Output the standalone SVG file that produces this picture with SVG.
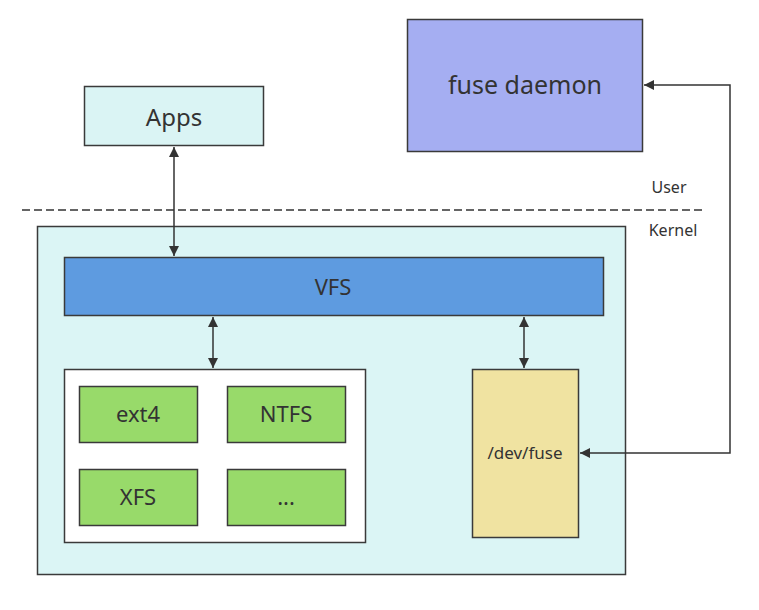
<svg xmlns="http://www.w3.org/2000/svg" width="759" height="610" viewBox="0 0 759 610">
<defs>
<marker id="ah" viewBox="0 0 10 10" refX="10" refY="5" markerWidth="10" markerHeight="10" markerUnits="userSpaceOnUse" orient="auto-start-reverse">
<path d="M0,0 L10,5 L0,10 Z" fill="#333"/>
</marker>
<style>
.box{stroke:#3a3a3a;stroke-width:1.5}
.t{font-family:"Noto Sans","Open Sans",sans-serif;fill:#333;text-anchor:middle;dominant-baseline:central}
.c{stroke:#333;stroke-width:1.5;fill:none}
</style>
</defs>
<rect width="759" height="610" fill="#fff"/>
<g id="kernel"><rect class="box" x="37.5" y="226.5" width="588" height="348" fill="#dbf5f5" stroke-width="1"/></g>
<line x1="22" y1="210" x2="702" y2="210" stroke="#333" stroke-width="1.3" stroke-dasharray="8,4"/>
<text class="t" x="669" y="187" font-size="16">User</text>
<text class="t" x="673" y="230" font-size="16">Kernel</text>
<g id="apps"><rect class="box" x="84.5" y="86.5" width="179" height="59" fill="#daf4f4"/><text class="t" x="174" y="116" font-size="24">Apps</text></g>
<g id="fuse-daemon"><rect class="box" x="407.5" y="19.5" width="235" height="132" fill="#a5aef2"/><text class="t" x="525" y="84" font-size="25">fuse daemon</text></g>
<g id="vfs"><rect class="box" x="64.5" y="257.5" width="539" height="58" fill="#5e9be0"/><text class="t" x="333" y="286" font-size="22">VFS</text></g>
<g id="fs-group"><rect class="box" x="64.5" y="369.5" width="301" height="173" fill="#fff"/></g>
<g id="ext4"><rect class="box" x="79.5" y="386.5" width="118" height="56" fill="#98da6a"/><text class="t" x="138" y="413" font-size="22">ext4</text></g>
<g id="ntfs"><rect class="box" x="227.5" y="386.5" width="118" height="56" fill="#98da6a"/><text class="t" x="286" y="413" font-size="22">NTFS</text></g>
<g id="xfs"><rect class="box" x="79.5" y="469.5" width="118" height="56" fill="#98da6a"/><text class="t" x="138" y="496" font-size="22">XFS</text></g>
<g id="more"><rect class="box" x="227.5" y="469.5" width="118" height="56" fill="#98da6a"/><text class="t" x="286" y="496" font-size="22">...</text></g>
<g id="dev-fuse"><rect class="box" x="472.5" y="369.5" width="106" height="168" fill="#f0e3a1"/><text class="t" x="525" y="452" font-size="17">/dev/fuse</text></g>
<g id="connectors">
<line class="c" x1="174" y1="147" x2="174" y2="256" marker-start="url(#ah)" marker-end="url(#ah)"/>
<line class="c" x1="213" y1="317" x2="213" y2="368" marker-start="url(#ah)" marker-end="url(#ah)"/>
<line class="c" x1="524" y1="317" x2="524" y2="368" marker-start="url(#ah)" marker-end="url(#ah)"/>
<polyline class="c" points="580,453 730,453 730,85 644,85" marker-start="url(#ah)" marker-end="url(#ah)"/>
</g>
</svg>
